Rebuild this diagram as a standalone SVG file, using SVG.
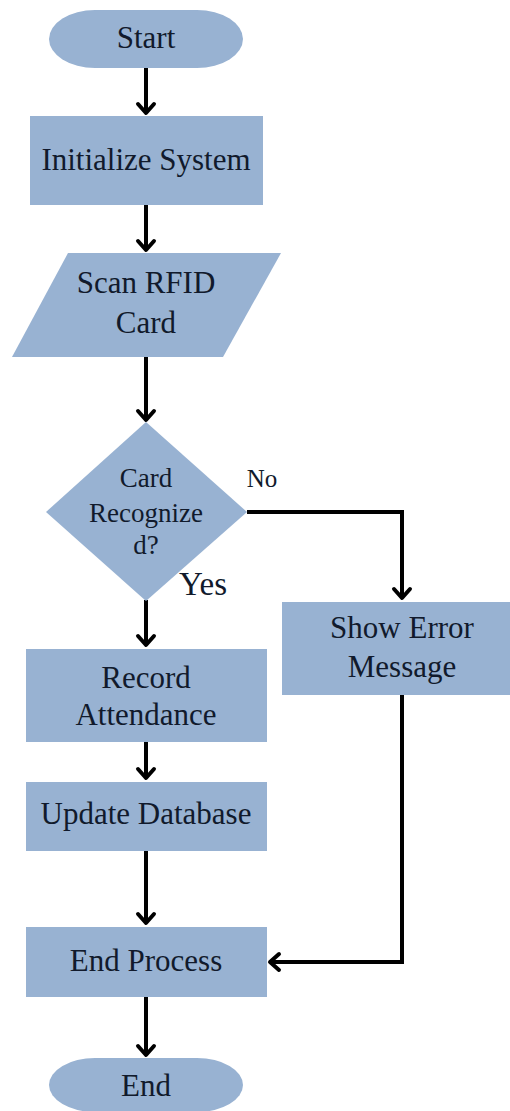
<svg xmlns="http://www.w3.org/2000/svg" width="510" height="1111" viewBox="0 0 510 1111">
<style>
.n{fill:#98b2d2;}
.t{font-family:'Liberation Serif','DejaVu Serif','Times New Roman',serif;fill:#111a2c;text-anchor:middle;font-size:31px;}
.d{font-size:27px;}
.c{fill:none;stroke:#000;stroke-width:4;}
</style>
<defs>
<marker id="ah" markerUnits="userSpaceOnUse" markerWidth="30" markerHeight="30" viewBox="-15 -15 30 30" refX="0" refY="0" orient="auto">
<path d="M-9,-8 L0,0 L-9,8" fill="none" stroke="#000" stroke-width="4" stroke-linecap="round" stroke-linejoin="round"/>
</marker>
</defs>
<rect width="510" height="1111" fill="#fff"/>
<g id="connectors">
<path class="c" d="M146,68 V113" marker-end="url(#ah)"/>
<path class="c" d="M146,205 V250" marker-end="url(#ah)"/>
<path class="c" d="M146,357 V420" marker-end="url(#ah)"/>
<path class="c" d="M247,512 H402 V598" marker-end="url(#ah)"/>
<path class="c" d="M146,600 V645" marker-end="url(#ah)"/>
<path class="c" d="M146,742 V778" marker-end="url(#ah)"/>
<path class="c" d="M146,851 V923" marker-end="url(#ah)"/>
<path class="c" d="M402,695 V962 H270" marker-end="url(#ah)"/>
<path class="c" d="M146,997 V1055" marker-end="url(#ah)"/>
</g>
<g id="start">
<rect class="n" x="49" y="10" width="194" height="58" rx="46" ry="29"/>
<text class="t" x="146" y="48">Start</text>
</g>
<g id="init">
<rect class="n" x="30" y="116" width="233" height="89"/>
<text class="t" x="146" y="170">Initialize System</text>
</g>
<g id="scan">
<polygon class="n" points="68,253 281,253 223,357 12,357"/>
<text class="t" x="146" y="293">Scan RFID</text>
<text class="t" x="146" y="333">Card</text>
</g>
<g id="decision">
<polygon class="n" points="146,422 247,512 146,601 46,512"/>
<text class="t d" x="146" y="487">Card</text>
<text class="t d" x="146" y="522">Recognize</text>
<text class="t d" x="146" y="554">d?</text>
</g>
<g id="labels">
<text class="t" x="262" y="487" style="font-size:25px">No</text>
<text class="t" x="203" y="595" style="font-size:33px">Yes</text>
</g>
<g id="error">
<rect class="n" x="282" y="602" width="228" height="93"/>
<text class="t" x="402" y="638">Show Error</text>
<text class="t" x="402" y="677">Message</text>
</g>
<g id="record">
<rect class="n" x="26" y="649" width="241" height="93"/>
<text class="t" x="146" y="688">Record</text>
<text class="t" x="146" y="725">Attendance</text>
</g>
<g id="update">
<rect class="n" x="26" y="782" width="241" height="69"/>
<text class="t" x="146" y="824">Update Database</text>
</g>
<g id="endprocess">
<rect class="n" x="26" y="927" width="241" height="70"/>
<text class="t" x="146" y="971">End Process</text>
</g>
<g id="end">
<rect class="n" x="49" y="1058" width="194" height="54" rx="46" ry="27"/>
<text class="t" x="146" y="1096">End</text>
</g>
</svg>
